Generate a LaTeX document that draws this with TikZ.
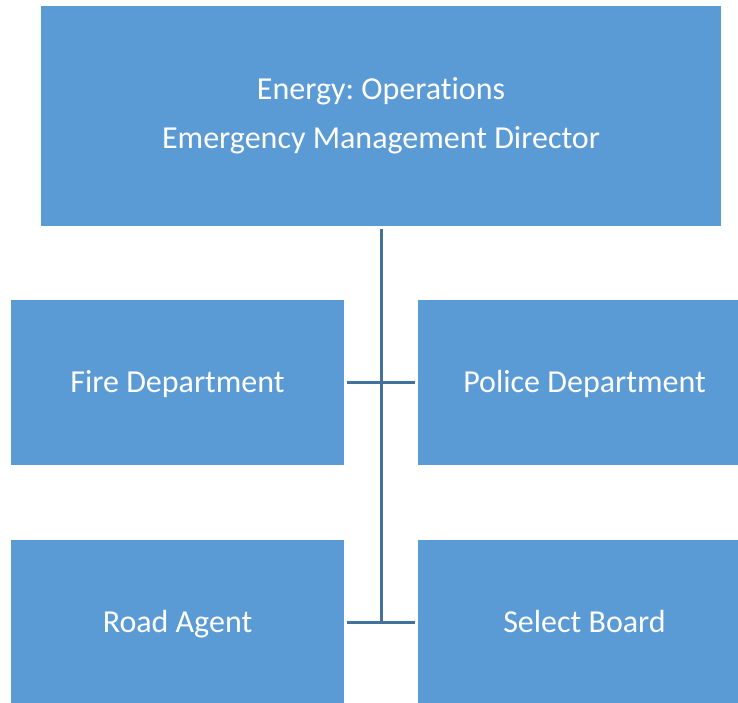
\documentclass[tikz,border=0pt]{standalone}
\usepackage{fontspec}
\setmainfont{Carlito}[RawFeature=-liga]
\frenchspacing
\definecolor{boxblue}{HTML}{5B9BD5}
\definecolor{lineblue}{HTML}{41719C}
\begin{document}
\begin{tikzpicture}[x=1pt,y=-1pt,
  orgbox/.style={fill=boxblue,draw=none,text=white,inner sep=0pt,outer sep=0pt,
    font=\fontsize{32}{49}\selectfont,align=center},
  onebox/.style={orgbox,minimum width=333pt,minimum height=165pt,text height=23pt,text depth=3.4pt},
  conn/.style={draw=lineblue,line width=3pt}]
\useasboundingbox (0,0) rectangle (738,702);
\clip (0,0) rectangle (738,702);
\node[orgbox,minimum width=680pt,minimum height=220pt] (top) at (381,116)
  {Energy: Operations\\Emergency Management Director};
\node[onebox] (fire) at (177.5,382.5) {Fire Department};
\node[onebox] (police) at (584.5,382.5) {Police Department};
\node[onebox] (road) at (177.5,622.5) {Road Agent};
\node[onebox] (select) at (584.5,622.5) {Select Board};
\coordinate (jb) at (top.south |- road.east);
\draw[conn] ([yshift=-3pt]top.south) -- ([yshift=-1.5pt]jb);
\draw[conn] ([xshift=3pt]fire.east) -- ([xshift=-3pt]police.west);
\draw[conn] ([xshift=3pt]road.east) -- ([xshift=-3pt]select.west);
\end{tikzpicture}
\end{document}
